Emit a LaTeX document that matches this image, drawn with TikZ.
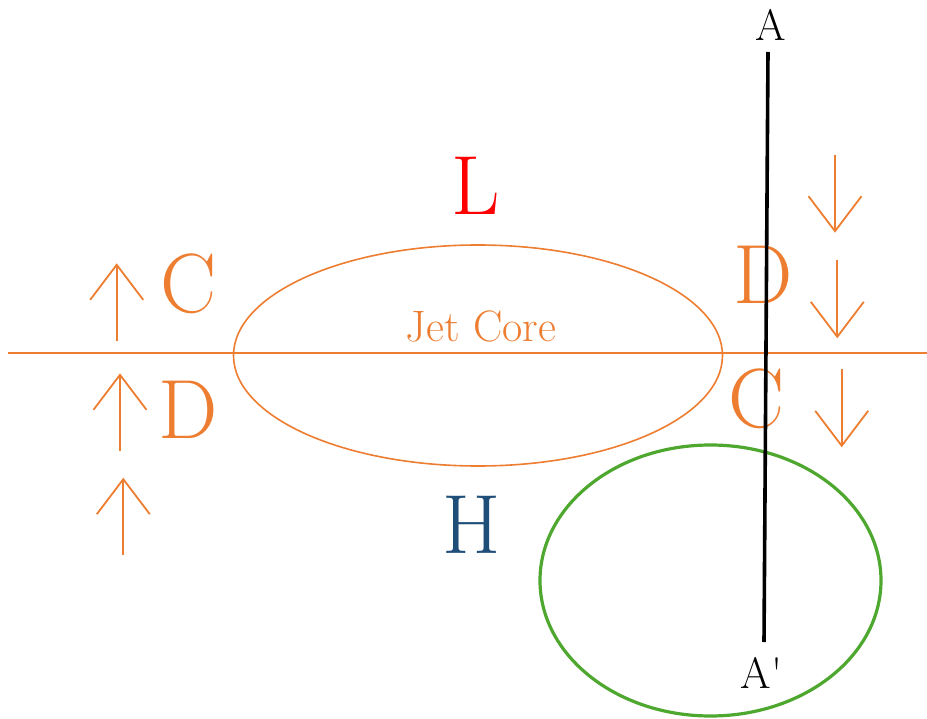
\documentclass[tikz,border=0pt]{standalone}
\usepackage{tikz}
\usetikzlibrary{arrows.meta}
\definecolor{jorange}{HTML}{ED7D31}
\definecolor{jred}{HTML}{FF0000}
\definecolor{jblue}{HTML}{1F4E79}
\definecolor{jgreen}{HTML}{4EA72E}
\tikzset{
  big/.style={font=\fontsize{84}{90}\selectfont,inner sep=0pt},
  mark lbl/.style={font=\fontsize{44}{50}\selectfont,inner sep=0pt},
  vec/.style={-{Straight Barb[length=35pt,width=53pt]},line width=1.8pt,draw=jorange},
  orng/.style={draw=jorange,line width=1.6pt},
}

\begin{document}
\begin{tikzpicture}[x=1pt,y=-1pt]
\useasboundingbox (0,0) rectangle (927,719);
% jet axis and core
\draw[orng] (8,353) -- (927,353);
\draw[orng] (478,355.5) ellipse [x radius=244.5,y radius=110.5];
\node[inner sep=0pt,anchor=base,text=jorange,font=\fontsize{44}{50}\selectfont] (core) at (481,341.5) {Jet Core};
\draw[jgreen,line width=3.2pt] (710.5,580.5) ellipse [x radius=170.5,y radius=135.5];
% pressure centres
\node[big,text=jred] (L) at (476,186) {L};
\node[big,text=jblue] (H) at (472,525) {H};
% convergence / divergence
\node[big,text=jorange] (lc) at (188.5,284) {C};
\node[big,text=jorange] (ld) at (188.5,409.5) {D};
\node[big,text=jorange] (rd) at (763,274.5) {D};
\node[big,text=jorange] (rc) at (756.7,399) {C};
% vertical motion
\foreach \x/\a/\b in {116.7/341/263.3, 120/450.7/373.3, 123.3/555/477.7}
  \draw[vec] (\x,\a) -- (\x,\b);
\foreach \x/\a/\b in {835/155/232.7, 837.3/260/338.3, 841.7/369.3/447.3}
  \draw[vec] (\x,\a) -- (\x,\b);
% cross section
\node[mark lbl] (A) at (771,24.5) {A};
\node[mark lbl] (A') at (761.5,673) {A\textquotesingle};
\coordinate (cs top) at (768,52);
\coordinate (cs bot) at (764,642);
\draw[line width=3.6pt] (cs top) -- (cs bot);
\end{tikzpicture}
\end{document}
